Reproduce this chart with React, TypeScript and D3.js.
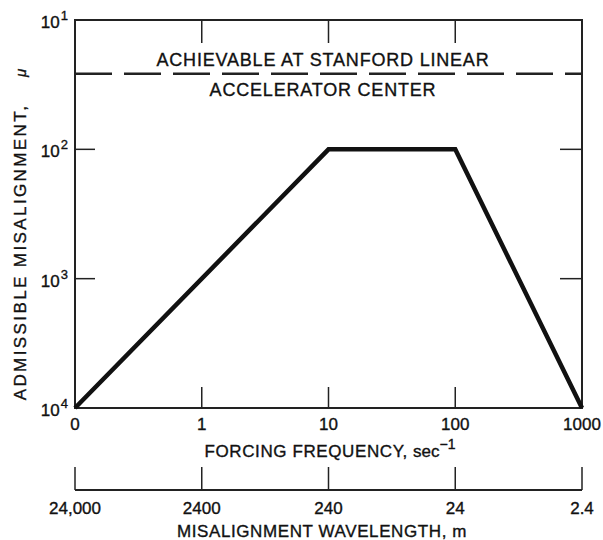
import React from "react";
import * as d3 from "d3";

const freqTicks = [0.1, 1, 10, 100, 1000];
const freqLabels = ["0", "1", "10", "100", "1000"];
const waveTicks = [24000, 2400, 240, 24, 2.4];
const waveLabels = ["24,000", "2400", "240", "24", "2.4"];
const yTicks = [10, 100, 1000, 10000];
const yExp = ["1", "2", "3", "4"];
const curveFreq = [0.1, 10, 100, 1000];
const curveMis = [10000, 100, 100, 10000];
const slacLevel = 26;

const L = 75, R = 582, T = 20, B = 408;
const FONT = "'Liberation Sans', Arial, sans-serif";
const TX = { fill: "#111", stroke: "#111", strokeWidth: 0.35 };

export default function App() {
  const x = d3.scaleLog().domain([0.1, 1000]).range([L, R]);
  const xw = d3.scaleLog().domain([24000, 2.4]).range([L, R]);
  const y = d3.scaleLog().domain([10, 10000]).range([T, B]);
  const pts: [number, number][] = curveFreq.map((f, i) => [x(f), y(curveMis[i])]);
  const line = d3.line()(pts) || "";
  const axisY = 490;
  return (
    <svg width={603} height={540} style={{ position: "absolute", left: 0, top: 0, background: "#fff" }} fontFamily={FONT}>
      <rect x={L} y={T} width={R - L} height={B - T} fill="none" stroke="#222" strokeWidth={2} />
      {freqTicks.slice(1, 4).map((f, i) => (
        <g key={"xt" + i}>
          <line x1={x(f)} x2={x(f)} y1={B} y2={B - 21} stroke="#222" strokeWidth={1.5} />
          <line x1={x(f)} x2={x(f)} y1={T} y2={T + 23} stroke="#222" strokeWidth={1.5} />
        </g>
      ))}
      {yTicks.slice(1, 3).map((v, i) => (
        <g key={"yt" + i}>
          <line x1={L} x2={L + 20} y1={y(v)} y2={y(v)} stroke="#222" strokeWidth={1.5} />
          <line x1={R} x2={R - 22} y1={y(v)} y2={y(v)} stroke="#222" strokeWidth={1.5} />
        </g>
      ))}
      {yTicks.map((v, i) => (
        <text key={"yl" + i} x={68} y={y(v) + 8} textAnchor="end" fontSize={17} {...TX}>
          10<tspan dx={1} dy={-8} fontSize={13}>{yExp[i]}</tspan>
        </text>
      ))}
      {freqTicks.map((f, i) => (
        <text key={"xl" + i} x={x(f)} y={430} textAnchor="middle" fontSize={17} {...TX}>
          {freqLabels[i]}
        </text>
      ))}
      <text x={330} y={457} textAnchor="middle" fontSize={17} letterSpacing={0.6} {...TX}>
        FORCING FREQUENCY, <tspan letterSpacing={0}>sec</tspan><tspan dy={-8} fontSize={14} letterSpacing={0}>−1</tspan>
      </text>
      <line x1={L} x2={R} y1={axisY} y2={axisY} stroke="#222" strokeWidth={2} />
      {waveTicks.map((w, i) => (
        <g key={"wt" + i}>
          <line x1={xw(w)} x2={xw(w)} y1={axisY} y2={axisY - 23} stroke="#222" strokeWidth={1.5} />
          <text x={xw(w)} y={514} textAnchor="middle" fontSize={17} {...TX}>
            {waveLabels[i]}
          </text>
        </g>
      ))}
      <text x={322} y={537} textAnchor="middle" fontSize={17} letterSpacing={0.6} {...TX}>
        MISALIGNMENT WAVELENGTH, m
      </text>
      <text transform="translate(26,252) rotate(-90)" textAnchor="middle" fontSize={17} letterSpacing={2.4} {...TX}>
        ADMISSIBLE MISALIGNMENT,
      </text>
      <text transform="translate(26,73) rotate(-90)" textAnchor="middle" fontSize={15} fontStyle="italic" {...TX}>
        μ
      </text>
      <line x1={L} x2={R} y1={y(slacLevel)} y2={y(slacLevel)} stroke="#222" strokeWidth={2.5} strokeDasharray="37 12" />
      <text x={323} y={y(slacLevel) - 8} textAnchor="middle" fontSize={18} letterSpacing={0.8} {...TX}>
        ACHIEVABLE AT STANFORD LINEAR
      </text>
      <text x={323} y={y(slacLevel) + 22} textAnchor="middle" fontSize={18} letterSpacing={0.8} {...TX}>
        ACCELERATOR CENTER
      </text>
      <path d={line} fill="none" stroke="#111" strokeWidth={4.5} strokeLinejoin="miter" />
    </svg>
  );
}
